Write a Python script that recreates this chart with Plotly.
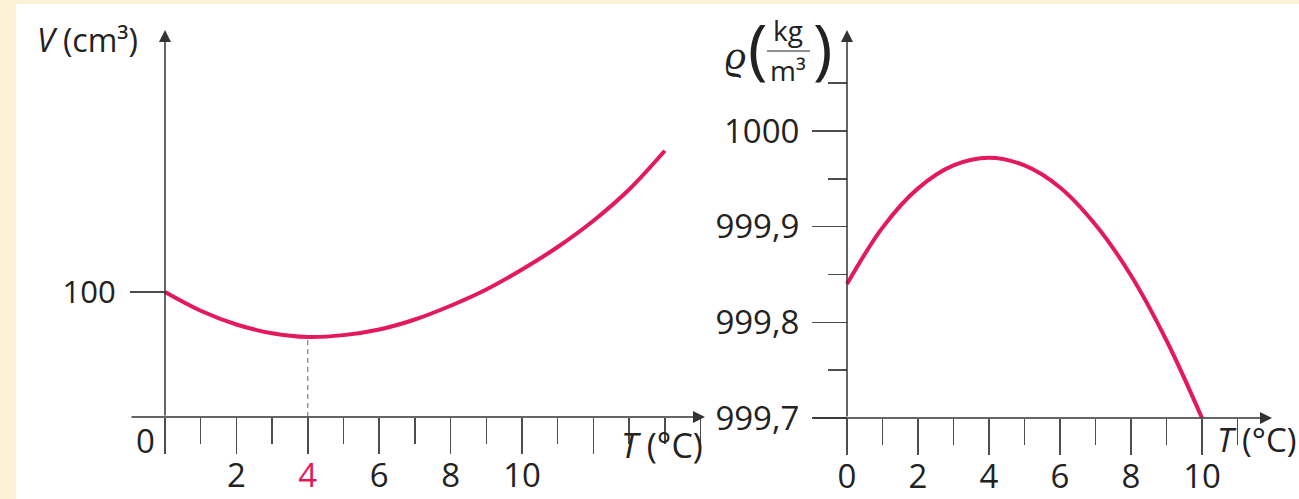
import plotly.graph_objects as go

# ---------------- data ----------------
# Left chart: volume of water vs temperature (schematic)
T_vol = [0, 1, 2, 3, 4, 5, 6, 7, 8, 9, 10, 11, 12, 13, 14]
V_vals = [100, 85, 74, 67, 64, 65.5, 70, 78, 89, 102, 118, 136, 157, 182, 213]
V_tickvals = [100]
V_ticktext = ["100"]
T_left_ticks = [0, 2, 4, 6, 8, 10, 12]
T_left_text = ["", "2", "4", "6", "8", "10", ""]
T_min = 4

# Right chart: density of water vs temperature
T_rho = [0, 1, 2, 3, 4, 5, 6, 7, 8, 9, 10]
rho_vals = [999.840, 999.899, 999.940, 999.964, 999.972, 999.964, 999.941, 999.902, 999.849, 999.781, 999.700]
rho_tickvals = [999.7, 999.8, 999.9, 1000.0]
rho_ticktext = ["999,7", "999,8", "999,9", "1000"]
rho_minor = [999.75, 999.85, 999.95, 1000.05]
T_right_ticks = [0, 2, 4, 6, 8, 10]
T_right_text = ["0", "2", "4", "6", "8", "10"]

# ---------------- styling ----------------
W, H = 1299, 499
RED = "#e3195b"
AX = "#4d4d4d"
TXT = "#222"
FONT = "Open Sans"
FS = 33


def px(x):
    return x / W


def py(y):
    return 1 - y / H


T_left_text = [f"<span style='color:{RED}'>{t}</span>" if v == T_min else t
               for v, t in zip(T_left_ticks, T_left_text)]

# pixel layout of the two coordinate systems
L_x0, L_left, L_right, L_unit = 165, 130, 705, 35.7
L_ybot, L_ytop, L_yunit = 417, 30, 1.25
R_x0, R_left, R_right, R_unit = 847, 812, 1272, 35.5
R_ybot, R_ytop, R_yunit = 418, 30, 956.7

fig = go.Figure()

fig.add_trace(go.Scatter(x=[T_min, T_min], y=[0, V_vals[T_vol.index(T_min)]],
                         mode="lines", line=dict(color="#666", width=1, dash="5px,4px"),
                         xaxis="x", yaxis="y", hoverinfo="skip", showlegend=False))
fig.add_trace(go.Scatter(x=T_vol, y=V_vals, mode="lines",
                         line=dict(color=RED, width=4, shape="spline", smoothing=1.0),
                         xaxis="x", yaxis="y", showlegend=False, cliponaxis=False))
fig.add_trace(go.Scatter(x=T_rho, y=rho_vals, mode="lines",
                         line=dict(color=RED, width=4, shape="spline", smoothing=1.0),
                         xaxis="x2", yaxis="y2", showlegend=False, cliponaxis=False))

tickfont = dict(family=FONT, size=FS, color=TXT)
common = dict(showgrid=False, zeroline=False, showline=False, automargin=False,
              fixedrange=True, tickmode="array", ticks="outside", tickwidth=1.5, tickcolor=AX)

fig.update_layout(
    width=W, height=H,
    autosize=False,
    margin=dict(l=0, r=0, t=0, b=0, pad=0, autoexpand=False),
    paper_bgcolor="#fef2d6",
    plot_bgcolor="rgba(0,0,0,0)",
    showlegend=False,
    xaxis=dict(domain=[px(L_left), px(L_right)],
               range=[-(L_x0 - L_left) / L_unit, (L_right - L_x0) / L_unit],
               anchor="y", tickvals=T_left_ticks, ticktext=T_left_text, ticklen=36,
               minor=dict(dtick=1, tick0=0, ticks="outside", ticklen=26, tickwidth=1.5,
                          tickcolor=AX, showgrid=False),
               tickfont=tickfont, ticklabelstandoff=-7, **common),
    yaxis=dict(domain=[py(L_ybot), py(L_ytop)],
               range=[0, (L_ybot - L_ytop) / L_yunit],
               anchor="free", position=px(L_x0), tickvals=V_tickvals, ticktext=V_ticktext,
               ticklen=35, tickfont=dict(family=FONT, size=31, color=TXT),
               ticklabelstandoff=8, **common),
    xaxis2=dict(domain=[px(R_left), px(R_right)],
                range=[-(R_x0 - R_left) / R_unit, (R_right - R_x0) / R_unit],
                anchor="y2", tickvals=T_right_ticks, ticktext=T_right_text, ticklen=36,
                minor=dict(dtick=1, tick0=0, ticks="outside", ticklen=26, tickwidth=1.5,
                           tickcolor=AX, showgrid=False),
                tickfont=tickfont, ticklabelstandoff=-7, **common),
    yaxis2=dict(domain=[py(R_ybot), py(R_ytop)],
                range=[999.7, 999.7 + (R_ybot - R_ytop) / R_yunit],
                anchor="free", position=px(R_x0), tickvals=rho_tickvals, ticktext=rho_ticktext,
                ticklen=35,
                minor=dict(tickmode="array", tickvals=rho_minor,
                           ticks="outside", ticklen=19, tickwidth=1.5, tickcolor=AX,
                           showgrid=False),
                tickfont=tickfont, ticklabelstandoff=6, **common),
)

# white panel
fig.add_shape(type="rect", xref="paper", yref="paper", x0=px(16), x1=1, y0=0, y1=py(4),
              fillcolor="white", line=dict(width=0), layer="below")


# axis lines with arrow heads
def arrow(hx, hy, tx, ty):
    fig.add_annotation(x=px(hx), y=py(hy), xref="paper", yref="paper", text="",
                       showarrow=True, ax=tx - hx, ay=ty - hy, axref="pixel", ayref="pixel",
                       arrowhead=2, arrowsize=1.6, arrowwidth=1.5, arrowcolor="#333")


arrow(L_right, L_ybot, L_left, L_ybot)
arrow(L_x0, L_ytop, L_x0, L_ybot)
arrow(R_right, R_ybot, R_left, R_ybot)
arrow(R_x0, R_ytop, R_x0, R_ybot)


def label(text, x, y, size=FS, xanchor="center"):
    fig.add_annotation(x=px(x), y=py(y), xref="paper", yref="paper", text=text,
                       showarrow=False, xanchor=xanchor, yanchor="middle",
                       font=dict(family=FONT, size=size, color=TXT))


label("<i>V</i> (cm³)", 35, 40, size=32, xanchor="left")
label("0", 145, 440, size=33)
label("<i>T</i> (°C)", 705, 445, size=34, xanchor="right")
label("<i>T</i> (°C)", 1298, 439, size=33, xanchor="right")
# density unit label
label("<i>ϱ</i>", 735, 52, size=42)
label("(", 757, 46, size=66)
label(")", 822, 46, size=66)
label("kg", 788, 30, size=28)
label("m³", 788, 70, size=28)
fig.add_shape(type="line", xref="paper", yref="paper", x0=px(767), x1=px(810),
              y0=py(51), y1=py(51), line=dict(color=TXT, width=1.2))

fig.write_html("out.html", config={"displayModeBar": False, "staticPlot": True},
               post_script="document.body.style.margin='0';document.body.style.overflow='hidden';")
